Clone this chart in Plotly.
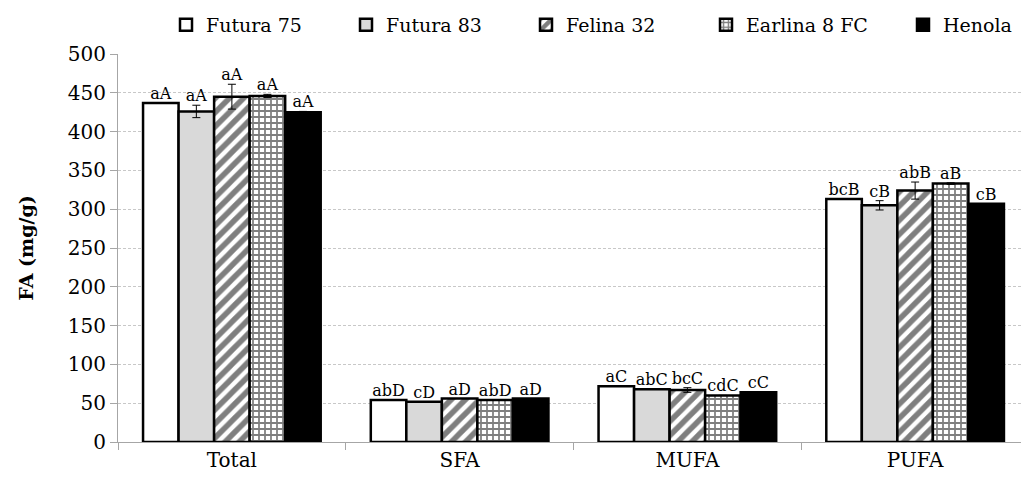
import plotly.graph_objects as go

categories = ["Total", "SFA", "MUFA", "PUFA"]
series_names = ["Futura 75", "Futura 83", "Felina 32", "Earlina 8 FC", "Henola"]

futura75 = [437, 54, 72, 313]
futura83 = [426, 52, 68, 305]
felina32 = [445, 56, 67, 324]
earlina8fc = [446, 54, 60, 333]
henola = [425, 56, 64, 307]

futura75_err = [0, 0, 0, 0]
futura83_err = [8, 0, 0, 6]
felina32_err = [16, 0, 3, 11]
earlina8fc_err = [2, 0, 0, 1]
henola_err = [1, 0, 0, 0]

futura75_lbl = ["aA", "abD", "aC", "bcB"]
futura83_lbl = ["aA", "cD", "abC", "cB"]
felina32_lbl = ["aA", "aD", "bcC", "abB"]
earlina8fc_lbl = ["aA", "abD", "cdC", "aB"]
henola_lbl = ["aA", "aD", "cC", "cB"]

values = [futura75, futura83, felina32, earlina8fc, henola]
errors = [futura75_err, futura83_err, felina32_err, earlina8fc_err, henola_err]
labels = [futura75_lbl, futura83_lbl, felina32_lbl, earlina8fc_lbl, henola_lbl]

FONT = "DejaVu Serif"
styles = [
    dict(color="white"),
    dict(color="#d9d9d9"),
    dict(color="white", pattern=dict(shape="/", fgcolor="black", bgcolor="white", size=10, solidity=0.55)),
    dict(color="white", pattern=dict(shape="+", fgcolor="black", bgcolor="white", size=6, solidity=0.5)),
    dict(color="black"),
]
legend_ids = ["legend", "legend", "legend", "legend", "legend2"]

fig = go.Figure()
for name, v, e, st, lg in zip(series_names, values, errors, styles, legend_ids):
    fig.add_trace(go.Bar(
        name=name, x=categories, y=v, legend=lg,
        marker=dict(line=dict(color="black", width=2.5), **st),
        error_y=dict(type="data", array=e, visible=True, color="black", thickness=1, width=4),
    ))

for name, v, e, t in zip(series_names, values, errors, labels):
    fig.add_trace(go.Scatter(
        x=categories, y=[a + b for a, b in zip(v, e)], text=t, mode="text",
        textposition="top center", textfont=dict(family=FONT, size=16, color="black"),
        showlegend=False, hoverinfo="skip",
    ))

leg_common = dict(orientation="h", xref="container", yref="container", y=1 - 17 / 476,
                  xanchor="left", yanchor="middle", font=dict(family=FONT, size=19),
                  traceorder="normal", itemwidth=30)

fig.update_layout(
    width=1021, height=476,
    margin=dict(l=110, r=0, t=46, b=42),
    plot_bgcolor="white", paper_bgcolor="white",
    barmode="group", bargap=0.22, bargroupgap=0,
    scattermode="group", scattergap=0.22,
    font=dict(family=FONT, size=19, color="black"),
    legend=dict(x=158 / 1021, entrywidth=135, **leg_common),
    legend2=dict(x=895 / 1021, **leg_common),
    yaxis=dict(range=[0, 500], dtick=50, showgrid=True, gridcolor="#c8c8c8", griddash="3px,2px",
               gridwidth=1, showline=True, linecolor="#a6a6a6", linewidth=1,
               ticks="outside", ticklen=7, tickcolor="#a6a6a6", zeroline=False,
               tickfont=dict(family=FONT, size=20), automargin=False,
               title=dict(text="<b>FA (mg/g)</b>", font=dict(family=FONT, size=19), standoff=29)),
    xaxis=dict(showline=True, linecolor="#a6a6a6", linewidth=1, ticks="outside", tickson="boundaries",
               ticklen=7, tickcolor="#a6a6a6", tickfont=dict(family=FONT, size=20)),
)

fig.write_html("out.html")
